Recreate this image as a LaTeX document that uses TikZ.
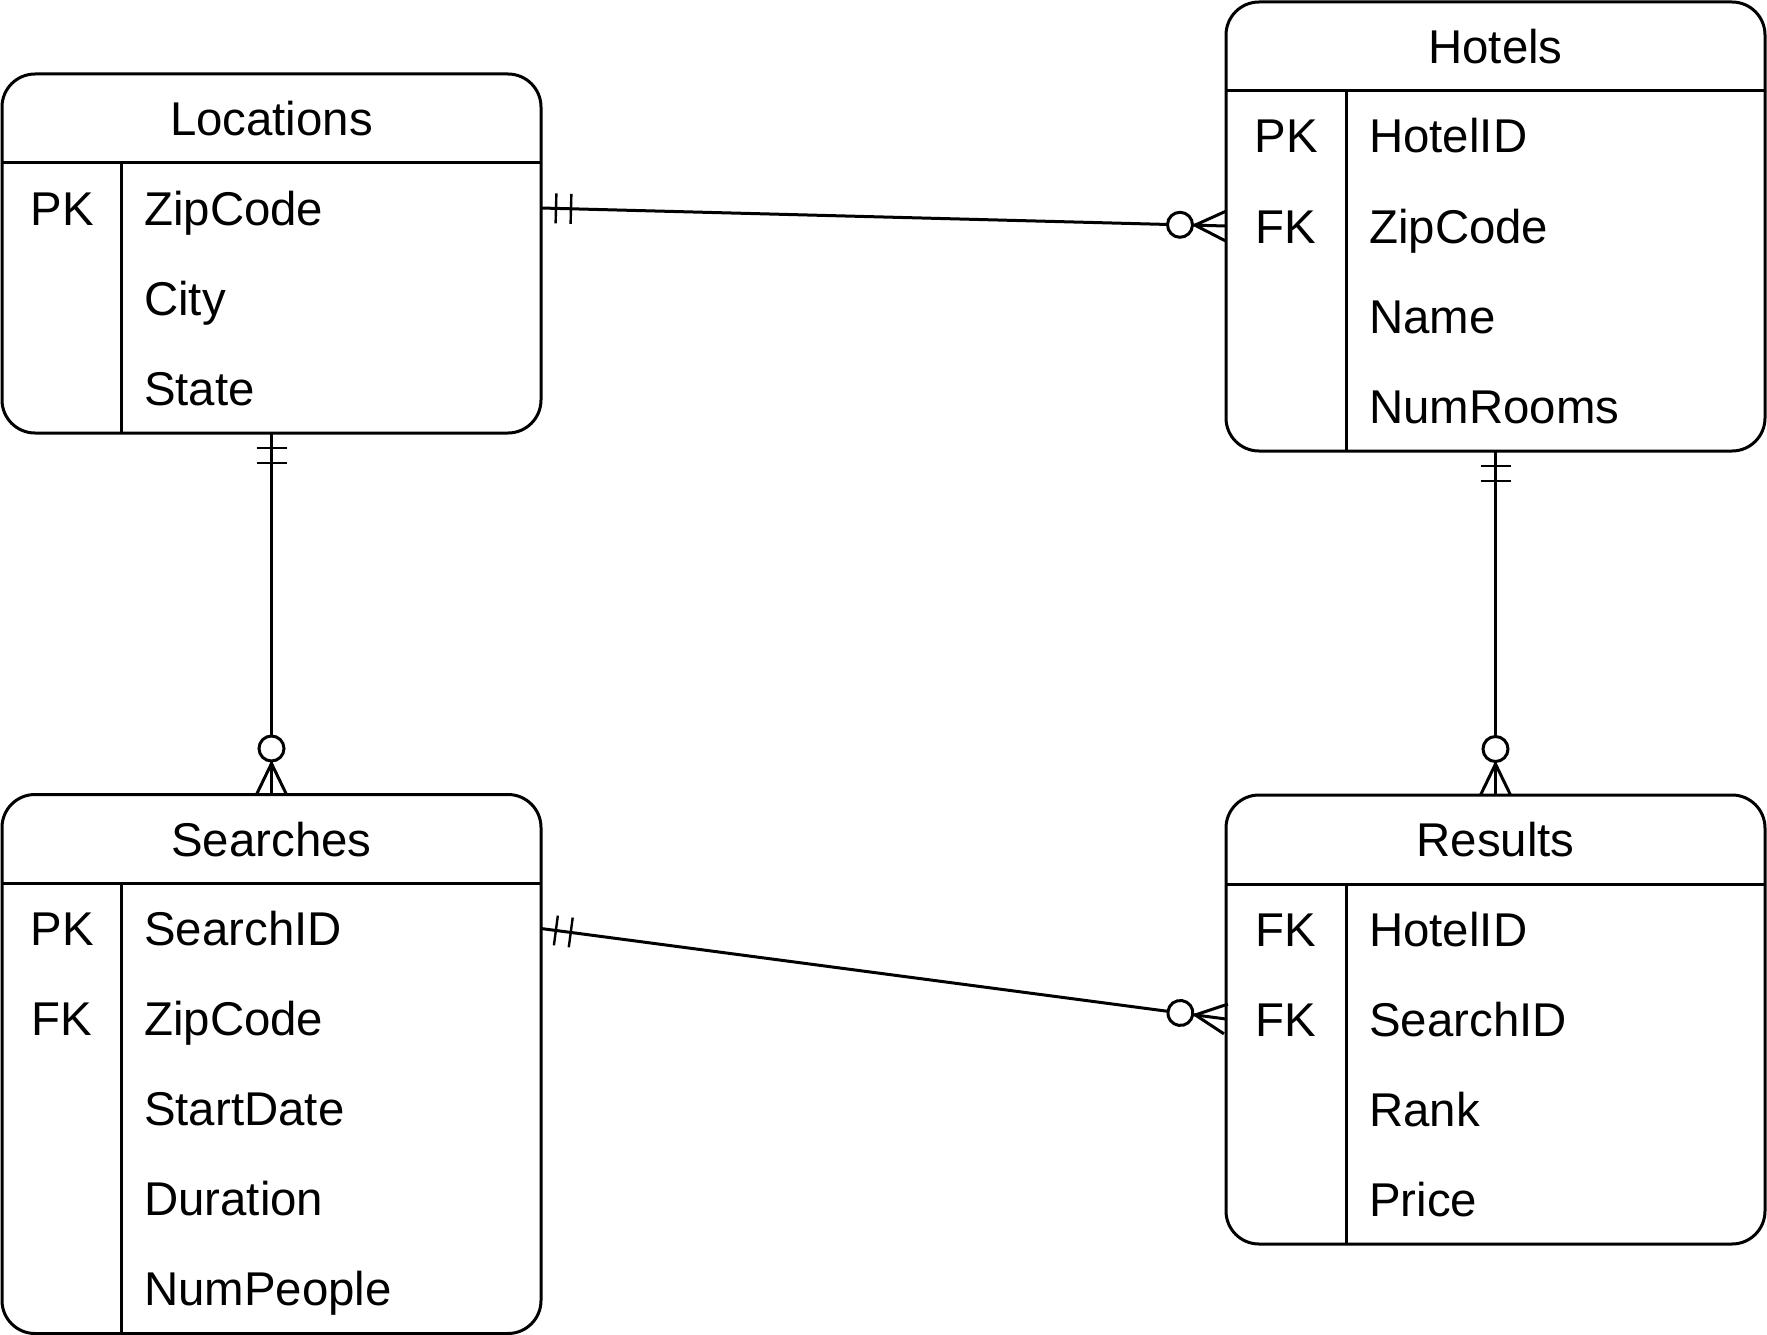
\documentclass[tikz,border=0pt]{standalone}
\usepackage{fontspec}
\setmainfont{Liberation Sans}
\usetikzlibrary{positioning, calc, decorations.markings}
\colorlet{ink}{black}
\tikzset{
  entity/.style  ={draw=ink, rounded corners=33pt, line width=3pt,
                   inner sep=0pt, outer sep=0pt},
  cell/.style    ={inner sep=0pt, font=\fontsize{47.4}{56}\selectfont,
                   text height=34pt, text depth=0pt},
  title/.style   ={cell, anchor=center},
  keycell/.style ={cell, anchor=center},
  field/.style   ={cell, anchor=west},
  rule/.style    ={-, ink, line width=3pt},
  oneToMany/.style={-, ink, line width=3pt, postaction={decorate},
    decoration={markings,
      mark=at position 15pt with {\draw[line width=2.4pt] (0,-15pt) -- (0,15pt);},
      mark=at position 30pt with {\draw[line width=2.4pt] (0,-15pt) -- (0,15pt);},
      mark=at position -46pt with {\draw[line width=3pt, fill=white] (0,0) circle (12.5pt);},
      mark=at position -31pt with {\draw[line width=3pt] (0,0) -- (31pt,15pt) (0,0) -- (31pt,-15pt);}}},
}

\begin{document}
\begin{tikzpicture}[x=1pt, y=-1pt]
\useasboundingbox[fill=white] (0,0) rectangle (1767,1335);

% Locations
\node[entity, minimum width=539, minimum height=359] (LOC) at (271.5, 253.5) {};
\node[title] (LOC-t) at ($(LOC.north)+(0,44.5)$) {Locations};
\draw[rule] ($(LOC.north west)+(0,89)$) -- ($(LOC.north east)+(0,89)$);
\draw[rule] ($(LOC.north west)+(119,89)$) -- ($(LOC.south west)+(119,0)$);
\foreach \k/\f [count=\i, evaluate=\i as \y using 44+90*\i] in {PK/ZipCode, {}/City, {}/State} {
  \node[keycell] (LOC-k\i) at ($(LOC.north west)+(60,\y)$) {\k};
  \node[field]   (LOC-\i)  at ($(LOC.north west)+(142,\y)$) {\f};
}

% Hotels
\node[entity, minimum width=539, minimum height=449] (HOT) at (1495.5, 226.5) {};
\node[title] (HOT-t) at ($(HOT.north)+(0,44.5)$) {Hotels};
\draw[rule] ($(HOT.north west)+(0,89)$) -- ($(HOT.north east)+(0,89)$);
\draw[rule] ($(HOT.north west)+(120,89)$) -- ($(HOT.south west)+(120,0)$);
\foreach \k/\f [count=\i, evaluate=\i as \y using 44+90*\i] in {PK/HotelID, FK/ZipCode, {}/Name, {}/NumRooms} {
  \node[keycell] (HOT-k\i) at ($(HOT.north west)+(60,\y)$) {\k};
  \node[field]   (HOT-\i)  at ($(HOT.north west)+(143,\y)$) {\f};
}

% Searches
\node[entity, minimum width=539, minimum height=539] (SEA) at (271.5, 1064) {};
\node[title] (SEA-t) at ($(SEA.north)+(0,44.5)$) {Searches};
\draw[rule] ($(SEA.north west)+(0,89)$) -- ($(SEA.north east)+(0,89)$);
\draw[rule] ($(SEA.north west)+(119,89)$) -- ($(SEA.south west)+(119,0)$);
\foreach \k/\f [count=\i, evaluate=\i as \y using 44+90*\i] in {PK/SearchID, FK/ZipCode, {}/StartDate, {}/Duration, {}/NumPeople} {
  \node[keycell] (SEA-k\i) at ($(SEA.north west)+(60,\y)$) {\k};
  \node[field]   (SEA-\i)  at ($(SEA.north west)+(142,\y)$) {\f};
}

% Results
\node[entity, minimum width=539, minimum height=449] (RES) at (1495.5, 1019.5) {};
\node[title] (RES-t) at ($(RES.north)+(0,44.5)$) {Results};
\draw[rule] ($(RES.north west)+(0,89)$) -- ($(RES.north east)+(0,89)$);
\draw[rule] ($(RES.north west)+(120,89)$) -- ($(RES.south west)+(120,0)$);
\foreach \k/\f [count=\i, evaluate=\i as \y using 44+90*\i] in {FK/HotelID, FK/SearchID, {}/Rank, {}/Price} {
  \node[keycell] (RES-k\i) at ($(RES.north west)+(60,\y)$) {\k};
  \node[field]   (RES-\i)  at ($(RES.north west)+(143,\y)$) {\f};
}

% relationships
\draw[oneToMany] (LOC.east |- LOC-1) -- (HOT.west |- HOT-2);
\draw[oneToMany] (LOC.south) -- (SEA.north);
\draw[oneToMany] (HOT.south) -- (RES.north);
\draw[oneToMany] (SEA.east |- SEA-1) -- (RES.west |- RES-2);

\end{tikzpicture}
\end{document}
